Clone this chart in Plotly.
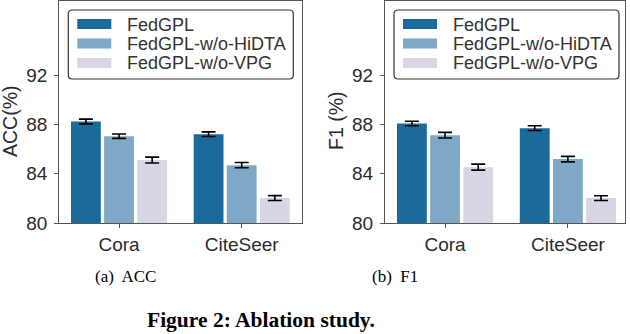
"""
Ablation study bar charts (ACC / F1) recreated with Plotly.
"""

import plotly.graph_objects as go

# ---- data ----
categories = ["Cora", "CiteSeer"]
methods = ["FedGPL", "FedGPL-w/o-HiDTA", "FedGPL-w/o-VPG"]

acc_fedgpl = [88.23, 87.20]
acc_hidta = [87.04, 84.69]
acc_vpg = [85.10, 82.02]
acc_fedgpl_err = [0.19, 0.19]
acc_hidta_err = [0.18, 0.21]
acc_vpg_err = [0.24, 0.20]

f1_fedgpl = [88.07, 87.69]
f1_hidta = [87.12, 85.18]
f1_vpg = [84.53, 82.02]
f1_fedgpl_err = [0.18, 0.19]
f1_hidta_err = [0.23, 0.22]
f1_vpg_err = [0.24, 0.19]

y_ticks = [80, 84, 88, 92]

# ---- style ----
W, H = 630, 334
COLORS = {
    "FedGPL": "#1b6a9b",
    "FedGPL-w/o-HiDTA": "#7fa8c6",
    "FedGPL-w/o-VPG": "#d6d6e4",
}
SANS = "Liberation Sans, Arial, sans-serif"
SERIF = "Liberation Serif, Times New Roman, serif"
SPINE = "#555555"
TEXT = "#2b2b2b"


def px(x):
    return x / W


def py(y):
    return 1 - y / H


def rounded_box(x0, y0, x1, y1, r=4):
    """pixel box -> paper path with rounded corners"""
    rx, ry = r / W, r / H
    a, b, c, d = px(x0), py(y0), px(x1), py(y1)  # b is top, d is bottom
    return (f"M{a + rx},{b} L{c - rx},{b} Q{c},{b} {c},{b - ry} "
            f"L{c},{d + ry} Q{c},{d} {c - rx},{d} L{a + rx},{d} "
            f"Q{a},{d} {a},{d + ry} L{a},{b - ry} Q{a},{b} {a + rx},{b} Z")


panels = [
    dict(vals=[acc_fedgpl, acc_hidta, acc_vpg],
         errs=[acc_fedgpl_err, acc_hidta_err, acc_vpg_err],
         left=59.3, right=302.3, xrange=[-0.487, 1.494],
         ytitle="ACC(%)", ytitle_x=10, sub="(a)  ACC", sub_x=125),
    dict(vals=[f1_fedgpl, f1_hidta, f1_vpg],
         errs=[f1_fedgpl_err, f1_hidta_err, f1_vpg_err],
         left=385.0, right=625.0, xrange=[-0.489, 1.465],
         ytitle="F1 (%)", ytitle_x=336, sub="(b)  F1", sub_x=395),
]

TOP, BOTTOM = 1.0, 223.0

fig = go.Figure()
shapes, annotations = [], []

for i, p in enumerate(panels):
    xa = "x" if i == 0 else f"x{i + 1}"
    ya = "y" if i == 0 else f"y{i + 1}"
    for name, v, e in zip(methods, p["vals"], p["errs"]):
        fig.add_trace(go.Bar(
            x=categories,
            y=v,
            name=name,
            marker=dict(color=COLORS[name], line=dict(width=0)),
            error_y=dict(type="data", array=e, color="black", thickness=1.6, width=7),
            xaxis=xa,
            yaxis=ya,
            offsetgroup=name,
            showlegend=False,
        ))

    axis_common = dict(
        showline=True, mirror=True, linecolor=SPINE, linewidth=1.2,
        ticks="outside", ticklen=4, tickcolor=SPINE, tickwidth=1,
        tickfont=dict(family=SANS, size=19, color=TEXT),
        showgrid=False, zeroline=False, automargin=False,
    )
    fig.update_layout(**{
        f"xaxis{'' if i == 0 else i + 1}": dict(
            **axis_common,
            domain=[px(p["left"]), px(p["right"])],
            type="category",
            range=p["xrange"],
            anchor=ya,
        ),
        f"yaxis{'' if i == 0 else i + 1}": dict(
            **axis_common,
            domain=[py(BOTTOM), py(TOP)],
            range=[80, 98],
            tickvals=y_ticks,
            anchor=xa,
            ticklabelstandoff=3,
        ),
    })

    # y axis title
    annotations.append(dict(
        text=p["ytitle"], x=px(p["ytitle_x"]), y=py(121),
        xref="paper", yref="paper", textangle=-90, showarrow=False,
        xanchor="center", yanchor="middle",
        font=dict(family=SANS, size=19.5, color=TEXT),
    ))

    # sub caption
    annotations.append(dict(
        text=p["sub"], x=px(p["sub_x"]), y=py(276),
        xref="paper", yref="paper", showarrow=False,
        xanchor="center", yanchor="middle",
        font=dict(family=SERIF, size=17, color="black"),
    ))

    # legend box drawn by hand (matplotlib-like)
    bx0 = p["left"] + 9
    shapes.append(dict(
        type="path", path=rounded_box(bx0, 10, bx0 + 225, 79, r=4),
        xref="paper", yref="paper",
        line=dict(color="#333333", width=1.2), fillcolor="rgba(255,255,255,0.85)",
    ))
    for k, name in enumerate(methods):
        cy = 24 + k * 19.5
        shapes.append(dict(
            type="rect", xref="paper", yref="paper",
            x0=px(bx0 + 9), x1=px(bx0 + 43), y0=py(cy - 5), y1=py(cy + 5),
            fillcolor=COLORS[name], line=dict(width=0),
        ))
        annotations.append(dict(
            text=name, x=px(bx0 + 57), y=py(cy + 0.5),
            xref="paper", yref="paper", showarrow=False,
            xanchor="left", yanchor="middle",
            font=dict(family=SANS, size=18, color="#333333"),
        ))

annotations.append(dict(
    text="<b>Figure 2: Ablation study.</b>", x=px(261), y=py(320),
    xref="paper", yref="paper", showarrow=False,
    xanchor="center", yanchor="middle",
    font=dict(family=SERIF, size=21.5, color="black"),
))

fig.update_layout(
    width=W,
    height=H,
    margin=dict(l=0, r=0, t=0, b=0),
    paper_bgcolor="white",
    plot_bgcolor="white",
    barmode="group",
    bargap=0.19,
    bargroupgap=0.1,
    shapes=shapes,
    annotations=annotations,
    showlegend=False,
)

# page body has a default 8px margin; drop it so the figure fills the window
fig.write_html(
    "out.html",
    config={"displayModeBar": False},
    post_script="document.body.style.margin='0';",
)
